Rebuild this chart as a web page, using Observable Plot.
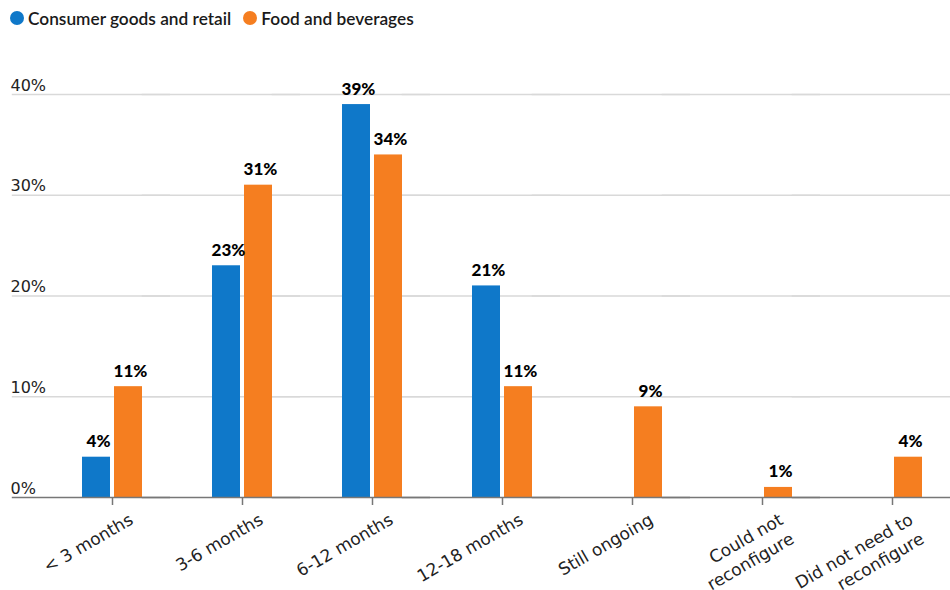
<!DOCTYPE html>
<html>
<head>
<meta charset="utf-8">
<script src="https://cdn.jsdelivr.net/npm/d3@7"></script>
<script src="https://cdn.jsdelivr.net/npm/@observablehq/plot@0.6"></script>
<style>
  body { margin: 0; background: #fff; }
  #legend { height: 36px; display: flex; align-items: center; padding-left: 10px; font-family: Lato, sans-serif; font-size: 17.3px; font-weight: 600; color: #1a1a1a; }
  .item { display: inline-flex; align-items: center; margin-right: 12px; }
  .dot { width: 14px; height: 14px; border-radius: 50%; margin-right: 4px; display: inline-block; }
  #chart svg { display: block; }
</style>
</head>
<body>
<div id="legend"></div>
<div id="chart"></div>
<script>
const categories = ["< 3 months", "3-6 months", "6-12 months", "12-18 months", "Still ongoing", "Could not\nreconfigure", "Did not need to\nreconfigure"];
const series = ["Consumer goods and retail", "Food and beverages"];
const consumerGoods = [4, 23, 39, 21, null, null, null];
const foodBeverages = [11, 31, 34, 11, 9, 1, 4];
const colors = ["#0f78c9", "#f57e20"];
const yTicks = [0, 10, 20, 30, 40];

const rows = [];
categories.forEach((c, i) => {
  if (consumerGoods[i] != null) rows.push({cat: c, series: series[0], value: consumerGoods[i]});
  if (foodBeverages[i] != null) rows.push({cat: c, series: series[1], value: foodBeverages[i]});
});

// legend
const legend = document.getElementById("legend");
series.forEach((s, i) => {
  const it = document.createElement("span");
  it.className = "item";
  const dot = document.createElement("span");
  dot.className = "dot";
  dot.style.background = colors[i];
  it.appendChild(dot);
  it.appendChild(document.createTextNode(s));
  legend.appendChild(it);
});

// horizontal rules are drawn per facet and extended with negative insets so they join up
const gridRows = [];
categories.forEach(c => yTicks.slice(1).forEach(t => gridRows.push({cat: c, t})));
const baseRows = categories.map(c => ({cat: c, t: 0}));

const frameH = 554 - 58 - 93;

const chart = Plot.plot({
  width: 950,
  height: 554,
  marginTop: 58,
  marginBottom: 93,
  marginLeft: 10,
  marginRight: 0,
  style: {fontFamily: "'DejaVu Sans', sans-serif", background: "#fff", overflow: "visible"},
  fx: {domain: categories, range: [45, 958], paddingInner: 0.5246, paddingOuter: 0.2623, axis: null},
  x: {domain: series, paddingInner: 0.1212, paddingOuter: 0, axis: null},
  y: {domain: [0, 40], axis: null},
  color: {domain: series, range: colors},
  marks: [
    Plot.ruleY(gridRows, {fx: "cat", y: "t", stroke: "#d9d9d9", strokeWidth: 1.5, insetLeft: -69.2, insetRight: -27}),
    Plot.text(yTicks, {fx: () => categories[0], y: d => d, text: d => d + "%", frameAnchor: "left", textAnchor: "start", lineAnchor: "bottom", dy: -4, dx: -71, fontSize: 16, fill: "#222"}),
    Plot.barY(rows, {fx: "cat", x: "series", y: "value", fill: "series"}),
    Plot.text(rows, {fx: "cat", x: "series", y: "value", text: d => d.value + "%", lineAnchor: "bottom", dy: -10, dx: 2, fontFamily: "Lato, sans-serif", fontWeight: 900, fontSize: 17, fill: "#000"}),
    Plot.ruleY(baseRows, {fx: "cat", y: "t", stroke: "#777", strokeWidth: 1.5, insetLeft: -69.2, insetRight: -27}),
    Plot.ruleX(categories, {fx: d => d, x: null, stroke: "#777", strokeWidth: 1.5, insetTop: frameH, insetBottom: -8}),
    Plot.text(categories, {fx: d => d, frameAnchor: "bottom", text: d => d, rotate: -30, textAnchor: "end", lineAnchor: "top", lineHeight: 1.3, dx: 14, dy: 12, fontSize: 17, fill: "#222"})
  ]
});
document.getElementById("chart").appendChild(chart);
</script>
</body>
</html>
